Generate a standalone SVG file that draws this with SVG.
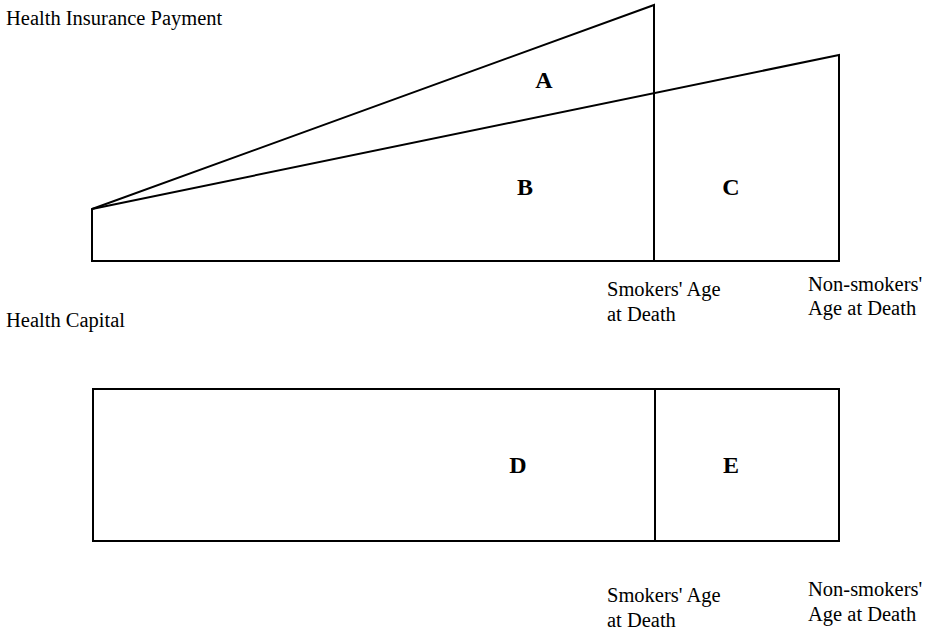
<svg xmlns="http://www.w3.org/2000/svg" width="929" height="632" viewBox="0 0 929 632">
<style>
.ln{fill:none;stroke:#000;stroke-width:2;stroke-linejoin:miter}
.t{font-family:"Liberation Serif","Times New Roman",serif;font-size:20.5px;fill:#000}
.b{font-family:"Liberation Serif","Times New Roman",serif;font-size:24px;font-weight:bold;fill:#000;text-anchor:middle}
</style>
<rect width="929" height="632" fill="#fff"/>
<g id="connectors">
<polyline class="ln" points="654,261 92,261 92,209 654,5 654,261"/>
<polyline class="ln" points="92,209 839,55 839,261 654,261"/>
<rect class="ln" x="93" y="389" width="746" height="152"/>
<line class="ln" x1="655" y1="389" x2="655" y2="541"/>
</g>
<g id="titles">
<text class="t" x="6" y="25">Health Insurance Payment</text>
<text class="t" x="6" y="327">Health Capital</text>
</g>
<g id="regionA"><text class="b" x="544" y="88">A</text></g>
<g id="regionB"><text class="b" x="525" y="195">B</text></g>
<g id="regionC"><text class="b" x="731" y="195">C</text></g>
<g id="regionD"><text class="b" x="518" y="473">D</text></g>
<g id="regionE"><text class="b" x="731" y="473">E</text></g>
<g id="axisTop">
<text class="t" x="607" y="296">Smokers' Age</text>
<text class="t" x="607" y="321">at Death</text>
<text class="t" x="808" y="291">Non-smokers'</text>
<text class="t" x="808" y="315">Age at Death</text>
</g>
<g id="axisBottom">
<text class="t" x="607" y="602">Smokers' Age</text>
<text class="t" x="607" y="627">at Death</text>
<text class="t" x="808" y="596">Non-smokers'</text>
<text class="t" x="808" y="621">Age at Death</text>
</g>
</svg>
